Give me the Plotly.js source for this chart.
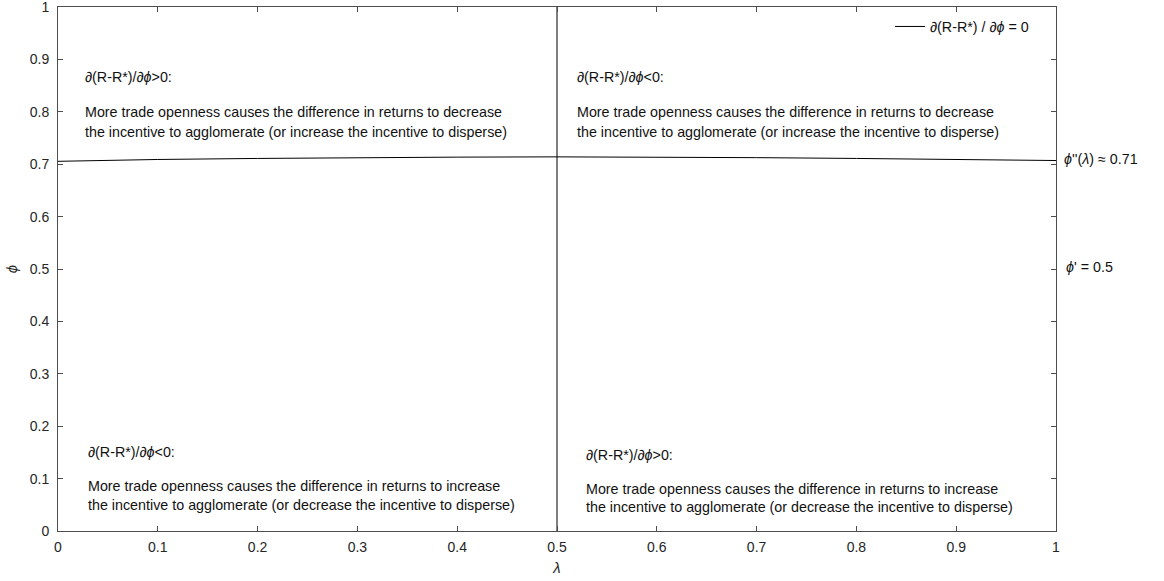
<!DOCTYPE html>
<html>
<head>
<meta charset="utf-8">
<script src="https://cdn.plot.ly/plotly-3.0.1.min.js"></script>
<style>
  html, body { margin: 0; padding: 0; background: #fff; }
  #chart { width: 1164px; height: 581px; }
</style>
</head>
<body>
<div id="chart"></div>
<script>
// Trade openness (phi) at which d(R-R*)/d(phi) = 0, as a function of lambda
const lambdaVals = [0, 0.1, 0.2, 0.3, 0.4, 0.5, 0.6, 0.7, 0.8, 0.9, 1];
const phiCritical = [0.7055, 0.709, 0.711, 0.7125, 0.7135, 0.714, 0.7135, 0.7125, 0.711, 0.709, 0.707];

// Vertical divider at lambda = 0.5
const dividerX = [0.5, 0.5];
const dividerY = [0, 1];

const tickVals = [0, 0.1, 0.2, 0.3, 0.4, 0.5, 0.6, 0.7, 0.8, 0.9, 1];
const tickText = ['0', '0.1', '0.2', '0.3', '0.4', '0.5', '0.6', '0.7', '0.8', '0.9', '1'];

const FONT = '"Liberation Sans", Arial, Helvetica, sans-serif';
const AXIS_COLOR = '#4d4d4d';
const TEXT_COLOR = '#262626';
const NOTE_SIZE = 14.3;

const dPos = '∂(R-R*)/∂<i>ϕ</i>>0:';
const dNeg = '∂(R-R*)/∂<i>ϕ</i><0:';
const decLines = [
  'More trade openness causes the difference in returns to decrease',
  'the incentive to agglomerate (or increase the incentive to disperse)'
];
const incLines = [
  'More trade openness causes the difference in returns to increase',
  'the incentive to agglomerate (or decrease the incentive to disperse)'
];

// Quadrant notes: [x, y of heading, y of first body line, y of second, heading, body]
const notes = [
  [0.025, 0.866, 0.800, 0.762, dPos, decLines],
  [0.518, 0.866, 0.800, 0.762, dNeg, decLines],
  [0.028, 0.151, 0.085, 0.049, dNeg, incLines],
  [0.527, 0.146, 0.081, 0.045, dPos, incLines]
];

const annotations = [];
notes.forEach(([x, yh, y1, y2, head, body]) => {
  [[yh, head], [y1, body[0]], [y2, body[1]]].forEach(([y, t]) => {
    annotations.push({
      x: x, y: y, xref: 'x', yref: 'y', text: t, showarrow: false,
      xanchor: 'left', yanchor: 'middle',
      font: { family: FONT, size: NOTE_SIZE, color: '#111' }
    });
  });
});

// Labels on the right edge
annotations.push({
  x: 1.006, y: 0.71, xref: 'paper', yref: 'y', text: '<i>ϕ</i>\'\'(<i>λ</i>) ≈ 0.71',
  showarrow: false, xanchor: 'left', yanchor: 'middle',
  font: { family: FONT, size: NOTE_SIZE, color: '#111' }
});
annotations.push({
  x: 1.008, y: 0.503, xref: 'paper', yref: 'y', text: '<i>ϕ</i>\' = 0.5',
  showarrow: false, xanchor: 'left', yanchor: 'middle',
  font: { family: FONT, size: NOTE_SIZE, color: '#111' }
});

const traces = [
  {
    x: lambdaVals, y: phiCritical, type: 'scatter', mode: 'lines',
    line: { color: '#000', width: 1 },
    name: '∂(R-R*) / ∂<i>ϕ</i> = 0', showlegend: true
  },
  {
    x: dividerX, y: dividerY, type: 'scatter', mode: 'lines',
    line: { color: '#000', width: 1 },
    showlegend: false, hoverinfo: 'skip'
  }
];

const axisCommon = {
  range: [0, 1], tickvals: tickVals, ticktext: tickText,
  showgrid: false, zeroline: false,
  showline: true, linecolor: AXIS_COLOR, linewidth: 1,
  mirror: 'ticks', ticks: 'inside', ticklen: 5, tickwidth: 1, tickcolor: AXIS_COLOR,
  ticklabeloverflow: 'allow',
  tickfont: { family: FONT, size: 14, color: TEXT_COLOR }
};

const layout = {
  width: 1164, height: 581,
  margin: { l: 58, r: 108, t: 7, b: 50 },
  paper_bgcolor: '#fff', plot_bgcolor: '#fff',
  font: { family: FONT, color: TEXT_COLOR },
  xaxis: Object.assign({}, axisCommon, {
    ticklabelstandoff: 3,
    title: { text: '<i>λ</i>', font: { family: FONT, size: 15, color: TEXT_COLOR }, standoff: 8 }
  }),
  yaxis: Object.assign({}, axisCommon, {
    ticklabelstandoff: 5,
    title: { text: '<i>ϕ</i>', font: { family: FONT, size: 15, color: TEXT_COLOR }, standoff: 8 }
  }),
  showlegend: true,
  legend: {
    x: 0.978, y: 0.993, xanchor: 'right', yanchor: 'top',
    bgcolor: 'rgba(0,0,0,0)', borderwidth: 0,
    font: { family: FONT, size: NOTE_SIZE, color: '#111' },
    itemwidth: 30
  },
  annotations: annotations
};

Plotly.newPlot('chart', traces, layout, { displayModeBar: false, staticPlot: true });
</script>
</body>
</html>
